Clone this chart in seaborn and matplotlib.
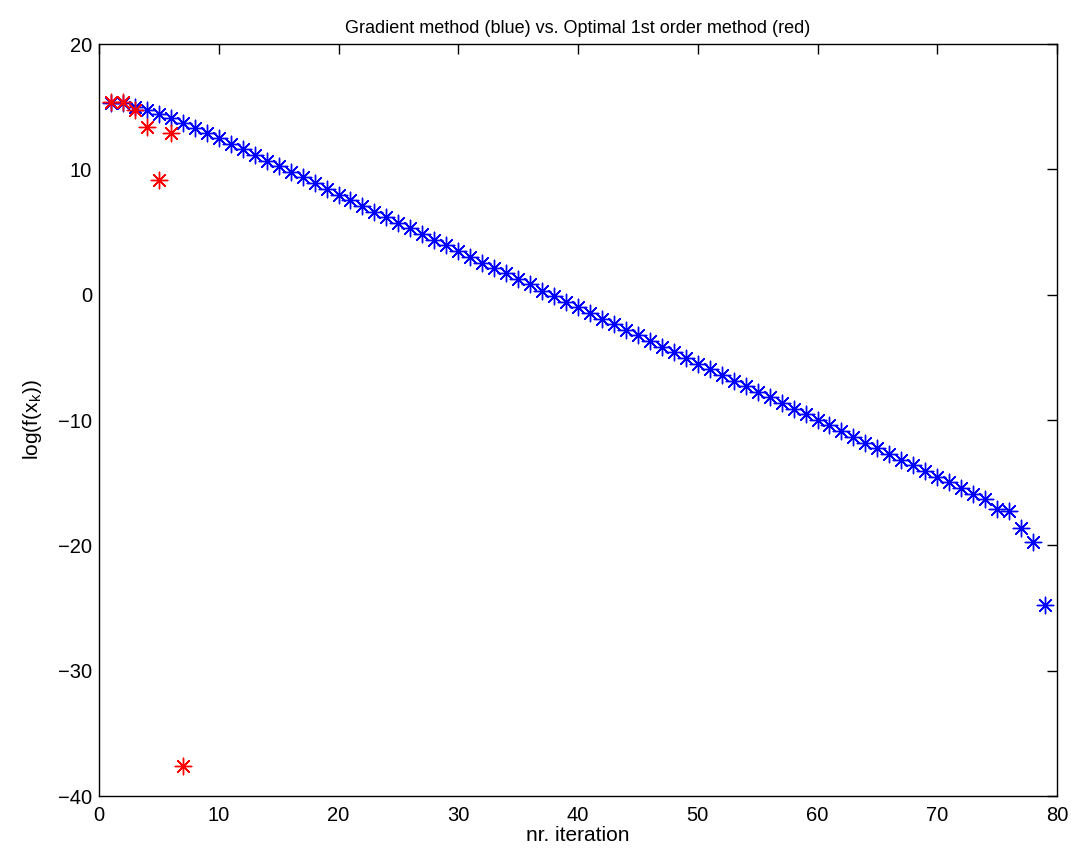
import matplotlib
matplotlib.use("Agg")
import matplotlib.pyplot as plt
import seaborn as sns
import numpy as np

# Data
grad_iter = list(range(1, 80))
grad_vals = [15.3, 15.3, 15.0, 14.73, 14.41, 14.07, 13.67, 13.27, 12.87, 12.48,
             12.02, 11.6, 11.14, 10.69, 10.27, 9.81, 9.36, 8.89, 8.43, 7.98,
             7.55, 7.07, 6.62, 6.17, 5.74, 5.29, 4.84, 4.36, 3.94, 3.51,
             3.03, 2.55, 2.10, 1.70, 1.25, 0.82, 0.32, -0.1, -0.59, -1.01,
             -1.49, -1.92, -2.34, -2.82, -3.24, -3.72, -4.15, -4.57, -5.08, -5.53,
             -5.96, -6.43, -6.86, -7.29, -7.77, -8.19, -8.62, -9.10, -9.52, -10.0,
             -10.43, -10.88, -11.33, -11.81, -12.26, -12.71, -13.19, -13.59, -14.05, -14.52,
             -14.97, -15.40, -15.91, -16.30, -17.10, -17.29, -18.64, -19.74, -24.74]
opt_iter = [1, 2, 3, 4, 5, 6, 7]
opt_vals = [15.35, 15.35, 14.75, 13.35, 9.15, 12.9, -37.6]

x_ticks = [0, 10, 20, 30, 40, 50, 60, 70, 80]
y_ticks = [-40, -30, -20, -10, 0, 10, 20]

sns.set_theme(style="white")
plt.rcParams['font.family'] = ['Liberation Sans', 'DejaVu Sans']
plt.rcParams['axes.unicode_minus'] = True
plt.rcParams['text.color'] = 'black'
plt.rcParams['axes.labelcolor'] = 'black'

fig = plt.figure(figsize=(10.71, 8.56), dpi=100)
ax = fig.add_axes([99/1071, 1 - 796/856, (1057-99)/1071, (796-44)/856])

star = (8, 2, 0)
sns.scatterplot(x=grad_iter, y=grad_vals, ax=ax, marker=star, s=140,
                color='#0000ff', edgecolor='#0000ff', linewidth=1.0, zorder=3)
sns.scatterplot(x=opt_iter, y=opt_vals, ax=ax, marker=star, s=140,
                color='#ff0000', edgecolor='#ff0000', linewidth=1.0, zorder=4)

ax.set_xlim(0, 80)
ax.set_ylim(-40, 20)
ax.set_xticks(x_ticks)
ax.set_yticks(y_ticks)
ax.tick_params(direction='in', length=7, width=1, top=True, right=True,
               labelsize=14.5, colors='black')
ax.tick_params(axis='x', pad=7)
ax.tick_params(axis='y', pad=5)
for sp in ax.spines.values():
    sp.set_visible(True)
    sp.set_color('black')
    sp.set_linewidth(1.0)

ax.set_title("Gradient method (blue) vs. Optimal 1st order method (red)",
             fontsize=13, pad=8, color='black')
ax.set_xlabel("nr. iteration", fontsize=15, labelpad=1)
ax.set_ylabel("log(f(x$_{\\mathregular{k}}$))", fontsize=15, labelpad=10)

fig.savefig("out.png", dpi=100)
